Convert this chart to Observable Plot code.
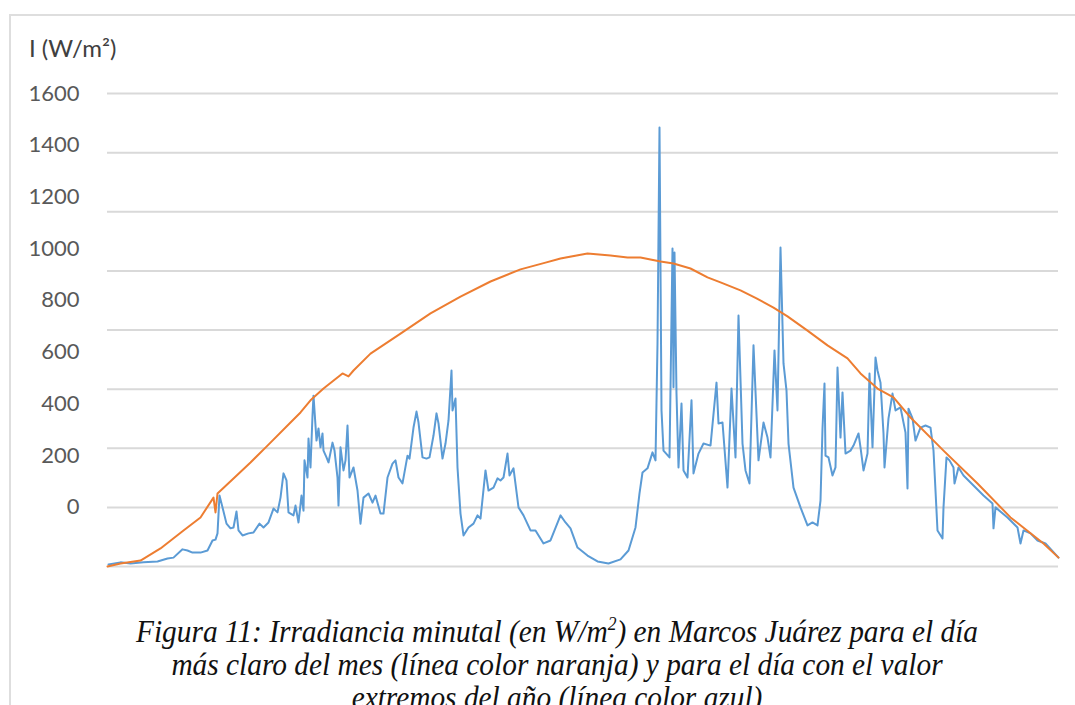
<!DOCTYPE html>
<html>
<head>
<meta charset="utf-8">
<script src="https://cdn.jsdelivr.net/npm/d3@7"></script>
<script src="https://cdn.jsdelivr.net/npm/@observablehq/plot@0.6"></script>
<style>
  html, body { margin: 0; padding: 0; background: #fff; }
  body { width: 1075px; height: 705px; overflow: hidden; position: relative; }
  #frame { position: absolute; left: 9px; top: 14px; width: 1070px; height: 700px;
           border-top: 2px solid #dedede; border-left: 2px solid #dedede; }
  #title { position: absolute; left: 29px; top: 33px; font-family: Lato, "Open Sans", sans-serif;
           font-size: 24px; color: #404040; white-space: nowrap; }
  #chart { position: absolute; left: 0; top: 75px; }
  #caption { position: absolute; left: 57px; width: 1000px; top: 615px; text-align: center;
             font-family: "Liberation Serif", "Times New Roman", serif; font-style: italic;
             font-size: 32px; line-height: 33px; color: #111; transform-origin: 50% 0; }
  #caption div { white-space: nowrap; }
  #caption sup { font-size: 60%; line-height: 0; }
</style>
</head>
<body>
<div id="frame"></div>
<div id="title">I (W/m²)</div>
<div id="chart"></div>
<div id="caption">
  <div><span id="cap1">Figura 11: Irradiancia minutal (en W/m<sup>2</sup>) en Marcos Juárez para el día</span></div>
  <div>más claro del mes (línea color naranja) y para el día con el valor</div>
  <div>extremos del año (línea color azul)</div>
</div>
<script>
// Y tick labels (W/m²)
const yTicks = [0, 200, 400, 600, 800, 1000, 1200, 1400, 1600];

// Clear day of the month (orange): minute since sunrise, irradiance W/m²
const orangeMinutes = [0, 13, 33, 53, 76, 93, 106, 108, 110, 126, 143, 160, 183, 193, 203, 216, 235, 241, 246, 263,
  293, 323, 353, 383, 413, 438, 453, 480, 503, 520, 533, 553, 566, 583, 600, 613, 633, 649, 666, 680,
  700, 720, 740, 753, 770, 786, 803, 836, 870, 903, 936, 951];
const orangeValues = [0, 10, 20, 61, 122, 166, 233, 183, 247, 298, 352, 409, 487, 521, 562, 602, 653, 643, 663, 720,
  788, 856, 913, 964, 1005, 1028, 1042, 1059, 1052, 1045, 1045, 1032, 1025, 1008, 978, 961, 934, 907, 876, 846,
  798, 748, 704, 653, 602, 572, 504, 392, 281, 166, 78, 30];

// Day with extreme value of the year (blue)
const blueMinutes = [1, 13, 23, 36, 50, 60, 66, 75, 80, 85, 93, 100, 105, 108, 110, 112, 115, 119, 123, 126,
  129, 131, 135, 141, 146, 152, 156, 161, 166, 170, 173, 176, 179, 181, 183, 186, 188, 191, 194, 196,
  197, 200, 201, 203, 205, 206, 209, 211, 213, 215, 216, 219, 221, 225, 227, 230, 231, 233, 236, 238,
  240, 242, 246, 250, 253, 256, 261, 265, 268, 273, 276, 280, 285, 288, 291, 295, 300, 302, 306, 309,
  311, 315, 319, 322, 326, 329, 331, 335, 338, 341, 344, 345, 348, 350, 353, 356, 361, 366, 370, 373,
  378, 381, 386, 390, 393, 396, 400, 402, 406, 411, 416, 423, 428, 436, 443, 453, 458, 463, 470, 480,
  490, 501, 513, 521, 528, 532, 535, 540, 545, 548, 550, 552, 554, 556, 562, 565, 566, 567, 569, 571,
  574, 576, 580, 584, 586, 591, 596, 603, 609, 611, 615, 620, 624, 628, 631, 635, 638, 642, 646, 651,
  656, 660, 663, 667, 670, 673, 676, 679, 681, 686, 693, 700, 705, 710, 713, 715, 717, 718, 721, 725,
  728, 730, 733, 735, 738, 743, 746, 751, 753, 756, 760, 762, 765, 768, 770, 773, 776, 777, 781, 785,
  788, 793, 798, 800, 801, 805, 808, 813, 818, 823, 826, 830, 835, 836, 839, 842, 846, 847, 851, 856,
  863, 876, 885, 886, 888, 900, 910, 913, 916, 923, 930, 938, 951];
const blueValues = [7, 14, 10, 14, 17, 27, 30, 58, 54, 47, 47, 54, 88, 91, 112, 240, 200, 145, 129, 132,
  186, 122, 105, 112, 115, 145, 132, 149, 196, 183, 233, 315, 291, 183, 179, 173, 206, 149, 240, 189,
  359, 301, 433, 335, 511, 578, 426, 467, 403, 450, 392, 369, 352, 419, 392, 301, 206, 403, 325, 359,
  477, 301, 335, 257, 145, 233, 247, 216, 240, 179, 179, 301, 348, 359, 301, 281, 375, 365, 470, 524,
  487, 369, 365, 369, 443, 518, 484, 365, 416, 494, 663, 528, 568, 335, 179, 105, 132, 145, 173, 162,
  325, 257, 267, 298, 291, 301, 382, 308, 332, 200, 173, 122, 122, 78, 88, 173, 149, 129, 64, 37,
  17, 10, 24, 54, 132, 247, 318, 332, 386, 359, 754, 1485, 528, 392, 369, 1076, 606, 1062, 585, 335,
  551, 325, 301, 562, 315, 382, 416, 409, 622, 484, 487, 267, 602, 369, 849, 416, 325, 281, 748, 359,
  487, 436, 369, 731, 528, 1079, 687, 595, 416, 267, 200, 139, 149, 139, 223, 467, 619, 375, 369, 308,
  335, 673, 436, 589, 382, 392, 409, 450, 403, 325, 382, 653, 403, 707, 663, 622, 450, 335, 501, 585,
  528, 538, 453, 264, 534, 501, 426, 470, 477, 470, 392, 122, 95, 200, 369, 359, 335, 281, 335, 308,
  284, 240, 213, 129, 200, 166, 132, 78, 122, 112, 88, 78, 30];

const orange = orangeMinutes.map((m, i) => ({minute: m, value: orangeValues[i]}));
const blue = blueMinutes.map((m, i) => ({minute: m, value: blueValues[i]}));

// Tick labels in the source are drawn on a compressed scale: 0 sits on the 200 gridline, 1600 on the 1600 gridline.
const labelPos = d => 200 + d * 0.875;

const chart = Plot.plot({
  width: 1075,
  height: 515,
  marginLeft: 107,
  marginRight: 17,
  marginTop: 18,
  marginBottom: 24,
  x: {domain: [0, 951], axis: null},
  y: {domain: [0, 1600], axis: null},
  style: {background: "transparent", overflow: "visible"},
  marks: [
    Plot.ruleY(yTicks, {stroke: "#d9d9d9", strokeWidth: 2}),
    Plot.text(yTicks, {y: labelPos, text: d => String(d), frameAnchor: "left", dx: -28, textAnchor: "end",
      fill: "#595959", fontSize: 22, fontFamily: "Lato, 'Open Sans', sans-serif"}),
    Plot.line(blue, {x: "minute", y: "value", stroke: "#5b9bd5", strokeWidth: 2, strokeLinejoin: "round"}),
    Plot.line(orange, {x: "minute", y: "value", stroke: "#ed7d31", strokeWidth: 2, strokeLinejoin: "round"})
  ]
});
document.getElementById("chart").appendChild(chart);

// Condense the caption horizontally to match the scanned figure width
const cap1 = document.getElementById("cap1");
const w = cap1.getBoundingClientRect().width;
const s = 842 / w;
document.getElementById("caption").style.transform = `scaleX(${s})`;
</script>
</body>
</html>
